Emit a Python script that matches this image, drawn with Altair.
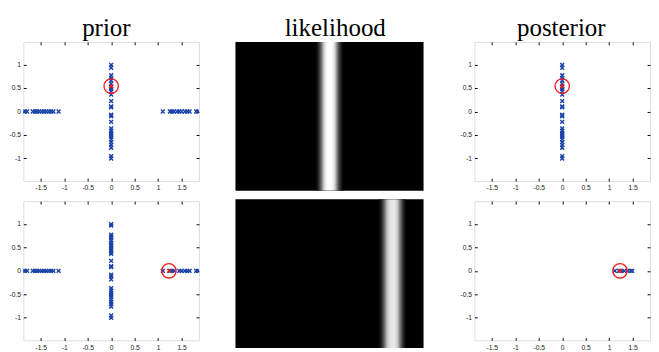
import altair as alt
import pandas as pd

# ---- data ----
# prior particles on the vertical arm (x = 0), top row and bottom row
prior_col_top = [0.99, 0.93, 0.77, 0.71, 0.66, 0.59, 0.52, 0.48, 0.43, 0.36, 0.22, 0.11, 0.09,
                 -0.07, -0.10, -0.22, -0.36, -0.41, -0.46, -0.50, -0.54, -0.59, -0.65, -0.71,
                 -0.77, -0.95, -1.0]
prior_col_bot = [0.99, 0.96, 0.77, 0.73, 0.70, 0.65, 0.60, 0.56, 0.53, 0.48, 0.44, 0.39, 0.36,
                 0.21, 0.10, 0.08, -0.08, -0.12, -0.18, -0.37, -0.42, -0.47, -0.51, -0.56,
                 -0.61, -0.66, -0.71, -0.76, -0.95, -1.0]
# prior particles on the horizontal arms (y = 0)
prior_left = [-1.86, -1.84, -1.79, -1.67, -1.62, -1.58, -1.53, -1.48, -1.43, -1.38, -1.33,
              -1.28, -1.23, -1.12]
prior_right_top = [1.10, 1.25, 1.29, 1.34, 1.40, 1.45, 1.50, 1.57, 1.62, 1.67, 1.81, 1.85]
prior_right_bot = [1.10, 1.25, 1.29, 1.34, 1.45, 1.50, 1.57, 1.62, 1.67, 1.81, 1.85]
# posterior particles
post_col_top = prior_col_top
post_row_bot = [1.12, 1.21, 1.26, 1.32, 1.39, 1.46, 1.49]
# true / selected state (red)
true_top = (0.0, 0.54)
true_bot = (1.23, 0.0)
# likelihood stripes: centre in x and brightness profile around it
lik_centers = [0.0, 1.25]
profile_offsets = [-0.26, -0.24, -0.22, -0.20, -0.18, -0.16, -0.14, -0.12, -0.10, -0.08,
                   -0.06, -0.04, -0.02, 0.0, 0.02, 0.04, 0.06, 0.08, 0.10, 0.12, 0.14,
                   0.16, 0.18, 0.20, 0.22, 0.24, 0.26]
profile_levels = [0.04, 0.09, 0.16, 0.25, 0.35, 0.47, 0.60, 0.74, 0.85, 0.92,
                  0.96, 0.99, 1.0, 1.0, 1.0, 0.99, 0.96, 0.92, 0.85, 0.74, 0.60,
                  0.47, 0.35, 0.25, 0.16, 0.09, 0.04]

titles = ["prior", "likelihood", "posterior"]
x_ticks = [-1.5, -1, -0.5, 0, 0.5, 1, 1.5]
y_ticks = [-1, -0.5, 0, 0.5, 1]

BLUE = "#1a42a8"
RED = "#ee2020"
XSHAPE = "M-1,-1L1,1M-1,1L1,-1"

XS = alt.Scale(domain=[-1.87, 1.87], nice=False, zero=False)
YS = alt.Scale(domain=[-1.48, 1.48], nice=False, zero=False)

lab = dict(labelFont="Liberation Sans", labelFontSize=7, labelColor="#222222", format="~g",
           labelExpr="replace(datum.label, '\u2212', '-')")
tick_common = dict(labels=False, domain=False, grid=False, title=None, ticks=True,
                   tickSize=3, tickColor="black", tickWidth=1)


def pts_frame(xs, ys):
    return pd.DataFrame({"x": xs, "y": ys})


def make_title(text, dx):
    return alt.TitleParams(text=text, font="Liberation Serif", fontSize=26,
                           fontWeight="normal", color="black", offset=1, dx=dx)


def scatter(df, sel, width, title=None):
    ax_xl = alt.Axis(orient="bottom", values=x_ticks, ticks=False, domain=False, grid=False,
                     title=None, labelPadding=3, **lab)
    ax_yl = alt.Axis(orient="left", values=y_ticks, ticks=False, domain=False, grid=False,
                     title=None, labelPadding=3, **lab)
    ax_xb = alt.Axis(orient="bottom", values=x_ticks, offset=-3, **tick_common)
    ax_yle = alt.Axis(orient="left", values=y_ticks, offset=-3, **tick_common)
    ax_xt = alt.Axis(orient="top", values=x_ticks, offset=-3, **tick_common)
    ax_yr = alt.Axis(orient="right", values=y_ticks, offset=-3, **tick_common)
    seldf = pd.DataFrame({"x": [sel[0]], "y": [sel[1]]})
    pts = alt.Chart(df).mark_point(shape=XSHAPE, size=16, color=BLUE, strokeWidth=1.5,
                                   opacity=1, clip=True).encode(
        x=alt.X("x:Q", scale=XS, axis=ax_xl), y=alt.Y("y:Q", scale=YS, axis=ax_yl))
    circ = alt.Chart(seldf).mark_point(shape="circle", size=225, color=RED, strokeWidth=1.4,
                                       opacity=1).encode(
        x=alt.X("x:Q", scale=XS, axis=ax_xb), y=alt.Y("y:Q", scale=YS, axis=ax_yle))
    cross = alt.Chart(seldf).mark_point(shape=XSHAPE, size=16, color=RED, strokeWidth=1.4,
                                        opacity=1).encode(
        x=alt.X("x:Q", scale=XS, axis=ax_xt), y=alt.Y("y:Q", scale=YS, axis=ax_yr))
    ch = alt.layer(pts, circ, cross).resolve_axis(x="independent", y="independent")
    props = dict(width=width, height=145)
    if title is not None:
        props["title"] = title
    return ch.properties(**props)


def likelihood(center, title=None):
    df = pd.DataFrame({"offset": profile_offsets, "level": profile_levels})
    ch = alt.Chart(df).transform_calculate(
        x0=f"{center} + datum.offset - 0.0105", x1=f"{center} + datum.offset + 0.0105"
    ).mark_rect(clip=True).encode(
        x=alt.X("x0:Q", scale=XS, axis=None),
        x2="x1:Q",
        color=alt.Color("level:Q", scale=alt.Scale(domain=[0, 1], range=["#000000", "#ffffff"],
                                                   interpolate="rgb"), legend=None),
    )
    props = dict(width=196, height=155, view=alt.ViewBackground(fill="black", stroke=None))
    if title is not None:
        props["title"] = title
    return ch.properties(**props)


prior_top_df = pts_frame([0.0] * len(prior_col_top) + prior_left + prior_right_top,
                         prior_col_top + [0.0] * (len(prior_left) + len(prior_right_top)))
prior_bot_df = pts_frame([0.0] * len(prior_col_bot) + prior_left + prior_right_bot,
                         prior_col_bot + [0.0] * (len(prior_left) + len(prior_right_bot)))
post_top_df = pts_frame([0.0] * len(post_col_top), post_col_top)
post_bot_df = pts_frame(post_row_bot, [0.0] * len(post_row_bot))

col1 = alt.vconcat(scatter(prior_top_df, true_top, 183, make_title(titles[0], -5)),
                   scatter(prior_bot_df, true_bot, 183), spacing=9)
col2 = alt.vconcat(likelihood(lik_centers[0], make_title(titles[1], 6)),
                   likelihood(lik_centers[1]), spacing=9)
col3 = alt.vconcat(scatter(post_top_df, true_top, 183, make_title(titles[2], -1)),
                   scatter(post_bot_df, true_bot, 183), spacing=9)

chart = alt.hconcat(col1, col2, col3, spacing=37).properties(
    padding={"left": 0, "top": 0, "right": 0, "bottom": 0}
).configure_view(stroke="black", strokeWidth=1).configure(background="white")

chart.save("out.html", embed_options={"renderer": "svg", "actions": False})
